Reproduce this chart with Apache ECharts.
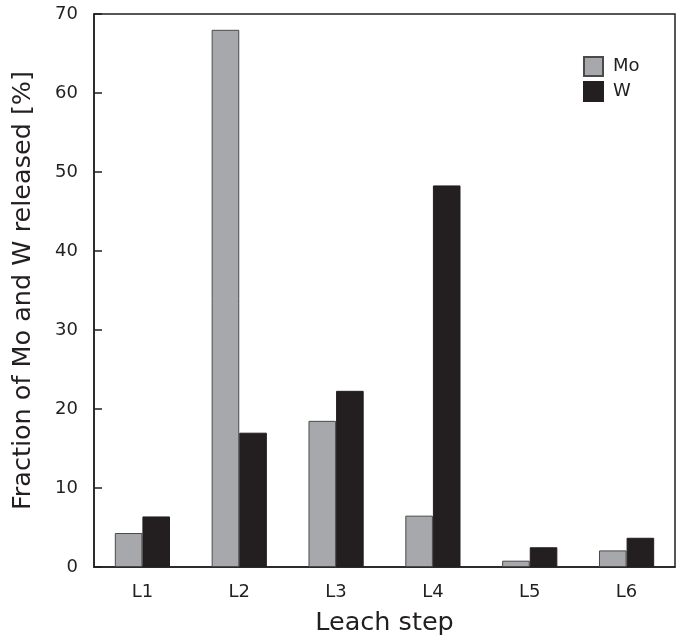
<!DOCTYPE html>
<html><head><meta charset="utf-8">
<script src="https://cdn.jsdelivr.net/npm/echarts@6/dist/echarts.min.js"></script>
<style>html,body{margin:0;padding:0;background:#fff}#c{width:683px;height:641px}</style>
</head><body><div id="c"></div>
<script>
const categories = ['L1','L2','L3','L4','L5','L6'];
const moValues = [4.3, 68.0, 18.5, 6.5, 0.8, 2.1];
const wValues = [6.4, 17.0, 22.3, 48.3, 2.5, 3.7];
const yTicks = {min: 0, max: 70, interval: 10};

const ink = '#231f20';
const font = 'DejaVu Sans';
const chart = echarts.init(document.getElementById('c'), null, {renderer: 'canvas'});
chart.setOption({
  animation: false,
  textStyle: {fontFamily: font},
  grid: {left: 94, right: 8, top: 14, bottom: 74, outerBoundsMode: 'none', containLabel: false,
         show: true, borderColor: ink, borderWidth: 1.5, backgroundColor: 'transparent'},
  legend: {
    data: ['Mo', 'W'], orient: 'vertical', left: 578, top: 51,
    itemWidth: 19, itemHeight: 19, itemGap: 4,
    textStyle: {fontFamily: font, fontSize: 18, color: ink, padding: [0, 0, 0, 5]},
    icon: 'rect'
  },
  xAxis: {
    type: 'category', data: categories,
    axisLine: {lineStyle: {color: ink, width: 1.5}},
    axisTick: {show: false},
    axisLabel: {fontFamily: font, fontSize: 18, color: ink, margin: 16},
    name: 'Leach step', nameLocation: 'middle', nameGap: 43,
    nameTextStyle: {fontFamily: font, fontSize: 25.5, color: ink}
  },
  yAxis: {
    type: 'value', min: yTicks.min, max: yTicks.max, interval: yTicks.interval,
    axisLine: {show: true, lineStyle: {color: ink, width: 1.5}},
    axisTick: {show: true, inside: true, length: 8, lineStyle: {color: ink, width: 1.5}},
    splitLine: {show: false},
    axisLabel: {fontFamily: font, fontSize: 18, color: ink, margin: 16},
    name: 'Fraction of Mo and W released [%]', nameLocation: 'middle', nameGap: 58,
    nameTextStyle: {fontFamily: font, fontSize: 25.5, color: ink}
  },
  series: [
    {name: 'Mo', type: 'bar', data: moValues, barGap: '0%', barCategoryGap: '43%',
     itemStyle: {color: '#a7a8ab', borderColor: '#4a4a4a', borderWidth: 1}},
    {name: 'W', type: 'bar', data: wValues, barGap: '0%', barCategoryGap: '43%',
     itemStyle: {color: ink, borderColor: ink, borderWidth: 1}}
  ]
});
</script></body></html>
